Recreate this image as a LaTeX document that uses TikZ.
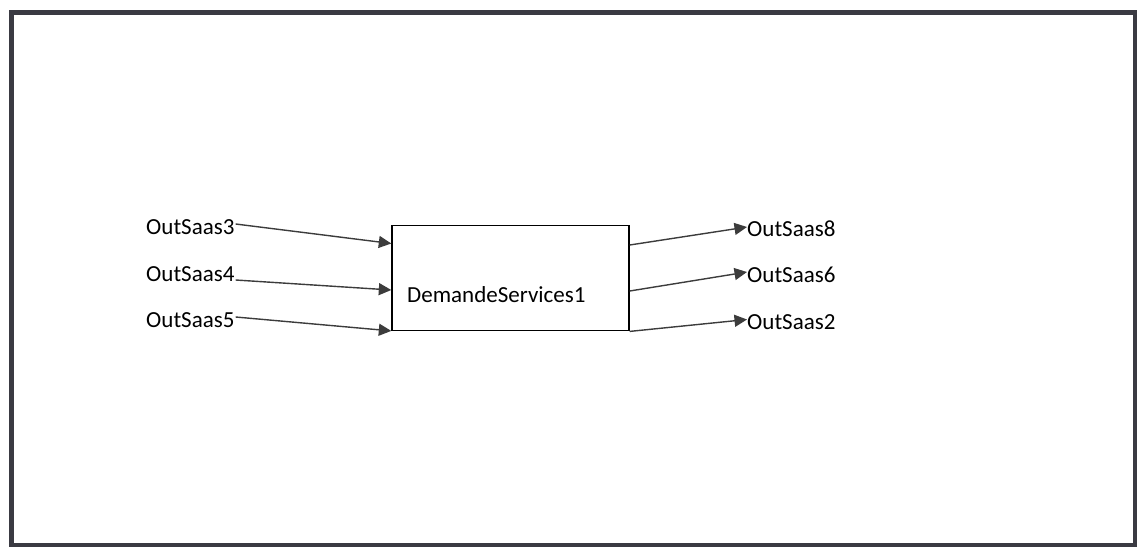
\documentclass[tikz,border=0pt]{standalone}
\usepackage{fontspec}
\setmainfont{Carlito}
\usetikzlibrary{arrows.meta}
\definecolor{framegray}{HTML}{3A3A42}
\definecolor{linegray}{HTML}{3C3C3C}
\tikzset{
  port/.style={inner sep=0pt, anchor=west, font=\fontsize{23}{27}\selectfont, text=black},
  flow/.style={draw=linegray, line width=1.4pt, -{Triangle[length=12.5pt,width=12pt]}},
  block/.style={draw=black, line width=1.4pt, rectangle, minimum width=237pt, minimum height=105pt, inner sep=0pt}
}
\begin{document}
\begin{tikzpicture}[x=1pt,y=-1pt]
  \useasboundingbox (0,0) rectangle (1138,547);
  % outer frame
  \draw[framegray, line width=4.5pt] (11.5,12.5) rectangle (1135,545);

  % central block
  \node[block] (box) at (510.5,278.2) {};
  \node[port] (boxlabel) at (407,295) {DemandeServices1};

  % inputs
  \node[port] (l3) at (146,227) {OutSaas3};
  \node[port] (l4) at (146,274) {OutSaas4};
  \node[port] (l5) at (146,320) {OutSaas5};

  % outputs
  \node[port] (r8) at (747,229) {OutSaas8};
  \node[port] (r6) at (747,275) {OutSaas6};
  \node[port] (r2) at (747,322) {OutSaas2};

  % incoming arrows
  \draw[flow] ([xshift=1pt,yshift=3pt]l3.east) -- ([yshift=-18.5pt]box.north west);
  \draw[flow] ([xshift=1pt,yshift=-6pt]l4.east) -- ([yshift=-65pt]box.north west);
  \draw[flow] ([xshift=1pt,yshift=3pt]l5.east) -- ([yshift=0.5pt]box.south west);

  % outgoing arrows
  \draw[flow] ([yshift=-20pt]box.north east) -- ([yshift=2pt]r8.west);
  \draw[flow] ([yshift=-66pt]box.north east) -- ([yshift=3pt]r6.west);
  \draw[flow] (box.south east) -- ([yshift=2.5pt]r2.west);
\end{tikzpicture}
\end{document}
